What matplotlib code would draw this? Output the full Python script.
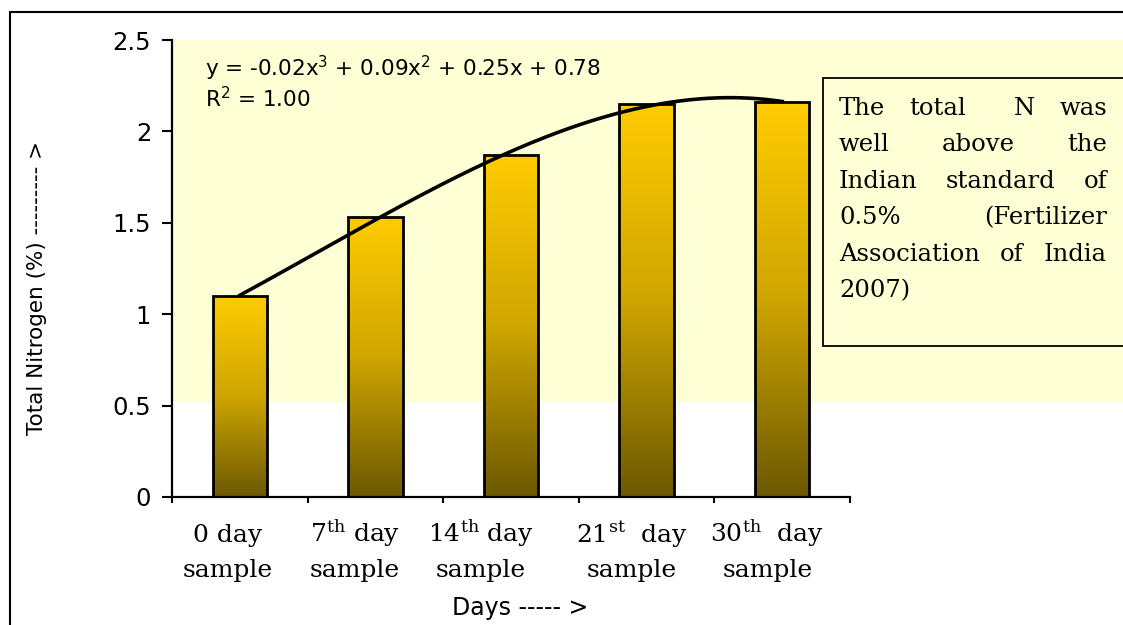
#Total nitrogen over composting days, with cubic trendline
#

import matplotlib.pyplot as plt
import matplotlib.transforms as mtransforms
from matplotlib.patches import Rectangle
from matplotlib.ticker import FormatStrFormatter
import numpy as np

days = ['0 day', '7$^{\\mathrm{th}}$ day', '14$^{\\mathrm{th}}$ day',
        '21$^{\\mathrm{st}}$  day', '30$^{\\mathrm{th}}$  day']
nitrogen = [1.10, 1.53, 1.87, 2.15, 2.16]
eq_text = 'y = -0.02x$^3$ + 0.09x$^2$ + 0.25x + 0.78'
r2_text = 'R$^2$ = 1.00'
note_lines = ['The total  N was', 'well above the', 'Indian standard of',
              '0.5% (Fertilizer', 'Association of India', '2007)']
standard = 0.52     # shaded band starts here

W, H = 1123, 625
fig = plt.figure(figsize=(W/100, H/100), dpi=100)

#pixel (from top left) -> figure fraction
def fx(px): return px / W
def fy(py): return 1 - py / H

ax = fig.add_axes([fx(172), fy(497), fx(850) - fx(172), fy(40) - fy(497)])
ax.patch.set_visible(False)

# light yellow band behind the chart, runs out to the right edge
y2px = lambda v: 497 - v * (497 - 40) / 2.5
fig.patches.append(Rectangle((fx(172), fy(y2px(standard))), 1 - fx(172),
                             fy(40) - fy(y2px(standard)), transform=fig.transFigure,
                             facecolor='#FFFFD5', edgecolor='none', zorder=-1))

# gradient bars
xpos = np.arange(len(nitrogen))
bw = 0.4
stops = np.array([[255, 204, 0], [207, 165, 0], [157, 127, 0], [108, 88, 0]]) / 255.
t = np.linspace(0, 1, 256)
grad = np.stack([np.interp(t, [0, 0.5, 0.75, 1], stops[:, k]) for k in range(3)], axis=1)
grad = grad[:, None, :]

bars = ax.bar(xpos, nitrogen, width=bw, facecolor='none', edgecolor='black',
              linewidth=2.0, zorder=3)
for b, v in zip(bars, nitrogen):
    im = ax.imshow(grad, extent=[b.get_x(), b.get_x() + bw, 0, v], aspect='auto',
                   interpolation='bilinear', zorder=2)
    im.set_clip_path(b)

# cubic trendline through the bar values
coef = np.polyfit(xpos + 1, nitrogen, 3)
xs = np.linspace(1, len(nitrogen), 200)
ax.plot(xs - 1, np.polyval(coef, xs), color='black', linewidth=2.6, zorder=4)

ax.set_xlim(-0.5, len(nitrogen) - 0.5)
ax.set_ylim(0, 2.5)
ax.set_yticks([0, 0.5, 1, 1.5, 2, 2.5])
ax.yaxis.set_major_formatter(FormatStrFormatter('%g'))
ax.tick_params(axis='y', direction='out', length=7, width=1.5, pad=8, labelsize=17.5)
ax.set_xticks(np.arange(-0.5, len(nitrogen)), [])
ax.tick_params(axis='x', direction='out', length=4, width=1.5)
for s in ['top', 'right']:
    ax.spines[s].set_visible(False)
for s in ['left', 'bottom']:
    ax.spines[s].set_linewidth(1.6)

# category labels (serif, slightly left of the bar centres as in the original)
nudge = [-0.09, -0.15, -0.22, -0.11, -0.11]
trans = mtransforms.blended_transform_factory(ax.transData, fig.transFigure)
for i, lab in enumerate(days):
    ax.text(i + nudge[i], fy(542), lab, transform=trans, ha='center', va='baseline',
            family='DejaVu Serif', math_fontfamily='dejavuserif', fontsize=18)
    ax.text(i + nudge[i], fy(577), 'sample', transform=trans, ha='center',
            va='baseline', family='DejaVu Serif', fontsize=18)

fig.text(fx(520), fy(615), 'Days ----- >', ha='center', va='baseline', fontsize=17)
fig.text(fx(37), fy(288), 'Total Nitrogen (%) --------- >', rotation=90,
         ha='center', va='center', fontsize=15.5)

# trendline equation
fig.text(fx(205), fy(76), eq_text, ha='left', va='baseline', fontsize=15.5)
fig.text(fx(205), fy(107), r2_text, ha='left', va='baseline', fontsize=15.5)

# note box with justified text
fig.patches.append(Rectangle((fx(823), fy(346)), 1.05 - fx(823), fy(78) - fy(346),
                             transform=fig.transFigure, facecolor='#FFFFD5',
                             edgecolor='black', linewidth=1.3, zorder=5))
renderer = fig.canvas.get_renderer()
left, right = 839, 1107
for i, line in enumerate(note_lines):
    base = 115 + i * 36.4
    words = line.split(' ')
    objs = [fig.text(0, fy(base), w, ha='left', va='baseline', family='DejaVu Serif',
                     fontsize=17.5, zorder=6) for w in words]
    widths = [o.get_window_extent(renderer).width if w else 0 for o, w in zip(objs, words)]
    if i == len(note_lines) - 1 or len(words) == 1:
        gap = 6
    else:
        gap = (right - left - sum(widths)) / (len(words) - 1)
    x = left
    for o, wd in zip(objs, widths):
        o.set_x(fx(x))
        x += wd + gap

# outer frame (right and bottom fall outside the picture)
fig.patches.append(Rectangle((fx(10), fy(650)), 1.2, fy(12) - fy(650),
                             transform=fig.transFigure, facecolor='none',
                             edgecolor='black', linewidth=1.5, zorder=7))

plt.savefig('out.png', dpi=100)
